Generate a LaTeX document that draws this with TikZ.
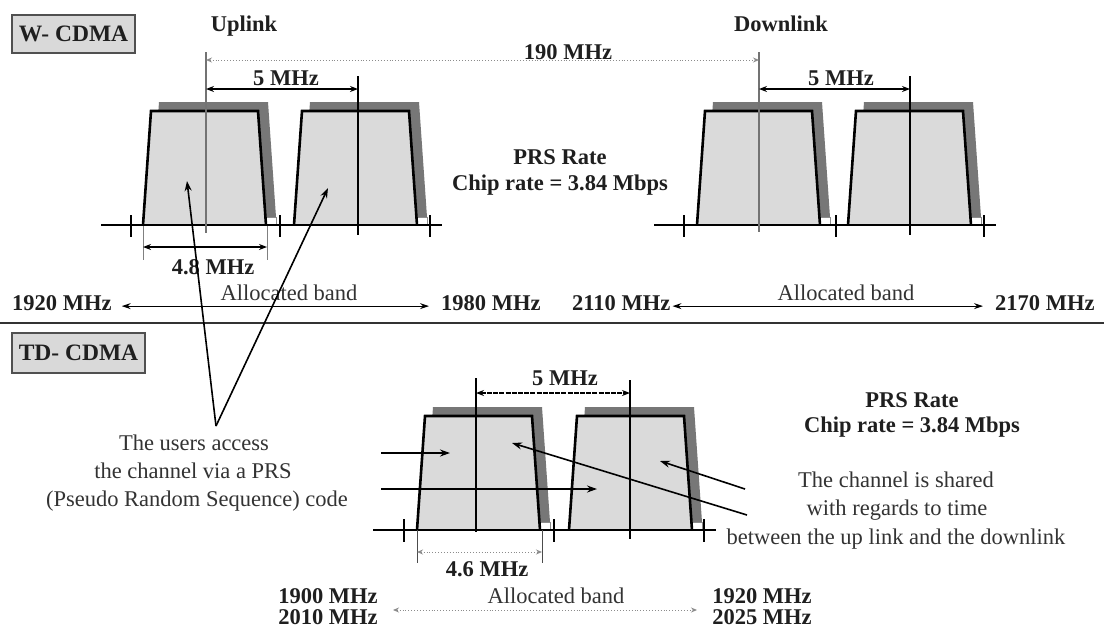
\documentclass[tikz,border=0pt]{standalone}
\usepackage{fontspec}
\setmainfont{Liberation Serif}
\usetikzlibrary{arrows.meta}
\definecolor{chanfill}{HTML}{DADADA}
\definecolor{shadowc}{HTML}{777777}
\definecolor{boxfill}{HTML}{D9D9D9}
\definecolor{boxline}{HTML}{505050}
\definecolor{txtreg}{HTML}{333333}
\definecolor{dotc}{HTML}{8C8C8C}
\begin{document}
\begin{tikzpicture}[x=1pt,y=-1pt,
  blbl/.style={font=\fontsize{22.5}{22}\selectfont\bfseries, text=black!88, inner sep=0pt, anchor=base},
  rlbl/.style={font=\fontsize{22.5}{22}\selectfont, text=txtreg, inner sep=0pt, anchor=base},
  techbox/.style={draw=boxline, line width=1.8pt, fill=boxfill, inner sep=0pt,
    font=\fontsize{23.5}{24}\selectfont\bfseries, text=black!88},
  axisline/.style={line width=2.6pt, black},
  tickline/.style={line width=2.2pt, black},
  cline/.style={line width=1.3pt, black},
  clinegray/.style={line width=1.2pt, black!55},
  extline/.style={line width=0.9pt, black!50},
  dimarrow/.style={line width=1.3pt, black, {Stealth[length=8pt,width=6pt]}-{Stealth[length=8pt,width=6pt]}},
  dotarrow/.style={line width=0.9pt, dotc, dotted, {Stealth[length=6pt,width=5pt]}-{Stealth[length=6pt,width=5pt]}},
  bandarrow/.style={line width=1.2pt, black, {Stealth[length=9pt,width=6pt]}-{Stealth[length=9pt,width=6pt]}},
  pointer/.style={line width=1.6pt, black, -{Stealth[length=10pt,width=7pt]}},
  chan/.pic={
    \fill[shadowc] (16,-123) -- (125,-123) -- (133,-8) -- (8,-8) -- cycle;
    \draw[black!45, line width=0.6pt, fill=white] (123,-8) rectangle (133,0);
    \draw[line width=2.6pt, fill=chanfill, line join=miter] (0,0) -- (8,-114) -- (115,-114) -- (123,0);
  }
]
\useasboundingbox (0,0) rectangle (1104,630);
\fill[white] (0,0) rectangle (1104,630);

% ---------------- W-CDMA ----------------
\node[techbox, minimum width=123pt, minimum height=38pt] (wcdma) at (73.5,34) {W- CDMA};
\node[blbl] (uplink) at (244,31) {Uplink};
\node[blbl] (downlink) at (781,31) {Downlink};

% channels
\pic (ul1) at (143,225) {chan};
\pic (ul2) at (294,225) {chan};
\pic (dl1) at (697,225) {chan};
\pic (dl2) at (848,225) {chan};

% axes
\coordinate (ulaxL) at (101,225); \coordinate (ulaxR) at (442,225);
\coordinate (dlaxL) at (654,225); \coordinate (dlaxR) at (996,225);
\draw[axisline] (ulaxL) -- (ulaxR);
\draw[axisline] (dlaxL) -- (dlaxR);
\foreach \x in {131,280,430,684,836,984} \draw[tickline] (\x,215) -- (\x,237);

% centre lines
\coordinate (ul1t) at (206,52); \coordinate (ul1b) at (206,233);
\coordinate (ul2t) at (358,76); \coordinate (ul2b) at (358,235);
\coordinate (dl1t) at (759,52); \coordinate (dl1b) at (759,232);
\coordinate (dl2t) at (910,76); \coordinate (dl2b) at (910,235);
\draw[clinegray] (ul1t) -- (ul1b);
\draw[cline] (ul2t) -- (ul2b);
\draw[clinegray] (dl1t) -- (dl1b);
\draw[cline] (dl2t) -- (dl2b);

% 190 MHz
\draw[dotarrow] (ul1t |- 0,60) -- (dl1t |- 0,60);
\node[blbl, fill=white, inner xsep=3pt, inner ysep=1pt] (d190) at (568,59) {190 MHz};

% 5 MHz
\draw[dimarrow] (ul1t |- 0,89) -- (ul2t |- 0,89);
\node[blbl] (ul5) at (286,85) {5 MHz};
\draw[dimarrow] (dl1t |- 0,89) -- (dl2t |- 0,89);
\node[blbl] (dl5) at (841,85) {5 MHz};

% 4.8 MHz
\coordinate (e48a) at (143,226); \coordinate (e48b) at (267,226);
\draw[extline] (e48a) -- ++(0,34);
\draw[extline] (e48b) -- ++(0,34);
\draw[dimarrow] (e48a |- 0,247) -- (e48b |- 0,247);
\node[blbl] (w48) at (213,274) {4.8 MHz};

% PRS rate (W-CDMA)
\node[blbl] (prs1) at (560,164) {PRS Rate};
\node[blbl] (chip1) at (560,190) {Chip rate = 3.84 Mbps};

% allocated bands
\node[rlbl] (alloc1) at (289,300) {Allocated band};
\node[blbl, anchor=base west] (f1920) at (12,310.5) {1920 MHz};
\node[blbl, anchor=base west] (f1980) at (441,310.5) {1980 MHz};
\draw[bandarrow] ([xshift=10pt,yshift=-3pt]f1920.east) -- ([xshift=-12pt,yshift=-3pt]f1980.west);
\node[rlbl] (alloc2) at (846,300) {Allocated band};
\node[blbl, anchor=base west] (f2110) at (572,310.5) {2110 MHz};
\node[blbl, anchor=base west] (f2170) at (995,310.5) {2170 MHz};
\draw[bandarrow] ([xshift=2pt,yshift=-3pt]f2110.east) -- ([xshift=-12pt,yshift=-3pt]f2170.west);

% separator
\draw[line width=2.4pt, black!80] (0,323) -- (1104,323);

% ---------------- TD-CDMA ----------------
\node[techbox, minimum width=133pt, minimum height=40pt] (tdcdma) at (78.5,353) {TD- CDMA};

\pic (td1) at (417,530) {chan};
\pic (td2) at (569,530) {chan};
\coordinate (tdaxL) at (373,530); \coordinate (tdaxR) at (716,530);
\draw[axisline] (tdaxL) -- (tdaxR);
\foreach \x in {404,554,704} \draw[tickline] (\x,519) -- (\x,542);

\coordinate (td1t) at (476,378); \coordinate (td1b) at (476,532);
\coordinate (td2t) at (630,380); \coordinate (td2b) at (630,539);
\draw[cline] (td1t) -- (td1b);
\draw[cline] (td2t) -- (td2b);

\draw[line width=1.4pt, black, dash pattern=on 5pt off 1.2pt,
  {Stealth[length=8pt,width=6pt]}-{Stealth[length=8pt,width=6pt]}] (td1t |- 0,393) -- (td2t |- 0,393);
\node[blbl] (td5) at (565,385.5) {5 MHz};

% 4.6 MHz
\coordinate (e46a) at (417,530); \coordinate (e46b) at (542,530);
\draw[line width=1pt, black!70] (e46a) -- ++(0,33);
\draw[line width=1pt, black!70] (e46b) -- ++(0,33);
\draw[dotarrow] (e46a |- 0,552) -- (e46b |- 0,552);
\node[blbl] (w46) at (487,576) {4.6 MHz};

% TD allocated band
\node[rlbl] (alloc3) at (556,603) {Allocated band};
\node[blbl] (f1900) at (328,603) {1900 MHz};
\node[blbl] (f2010) at (328,624.5) {2010 MHz};
\node[blbl] (f1920b) at (762,603) {1920 MHz};
\node[blbl] (f2025) at (762,624.5) {2025 MHz};
\coordinate (tdbandL) at (393,610); \coordinate (tdbandR) at (697,610);
\draw[dotarrow] (tdbandL) -- (tdbandR);

% PRS rate (TD)
\node[blbl] (prs2) at (912,407) {PRS Rate};
\node[blbl] (chip2) at (912,432) {Chip rate = 3.84 Mbps};

% users text and pointers
\node[rlbl] (users1) at (194,450) {The users access};
\node[rlbl] (users2) at (193,478) {the channel via a PRS};
\node[rlbl] (users3) at (197,506) {(Pseudo Random Sequence) code};
\coordinate (apex) at (216,426);
\coordinate (ptA) at (187,181);
\coordinate (ptB) at (328,188);
\draw[pointer] (apex) -- (ptA);
\draw[pointer] (apex) -- (ptB);

% shared text
\node[rlbl] (shared1) at (896,487) {The channel is shared};
\node[rlbl] (shared2) at (897,515) {with regards to time};
\node[rlbl] (shared3) at (896,544) {between the up link and the downlink};

% TD arrows
\coordinate (la1) at (381,453); \coordinate (lh1) at (450,453);
\coordinate (la2) at (381,489); \coordinate (lh2) at (597,489);
\coordinate (ra1) at (745,489); \coordinate (rh1) at (660,461);
\coordinate (ra2) at (747,515); \coordinate (rh2) at (512,443);
\draw[pointer] (la1) -- (lh1);
\draw[pointer] (la2) -- (lh2);
\draw[pointer] (ra1) -- (rh1);
\draw[pointer] (ra2) -- (rh2);
\end{tikzpicture}
\end{document}
